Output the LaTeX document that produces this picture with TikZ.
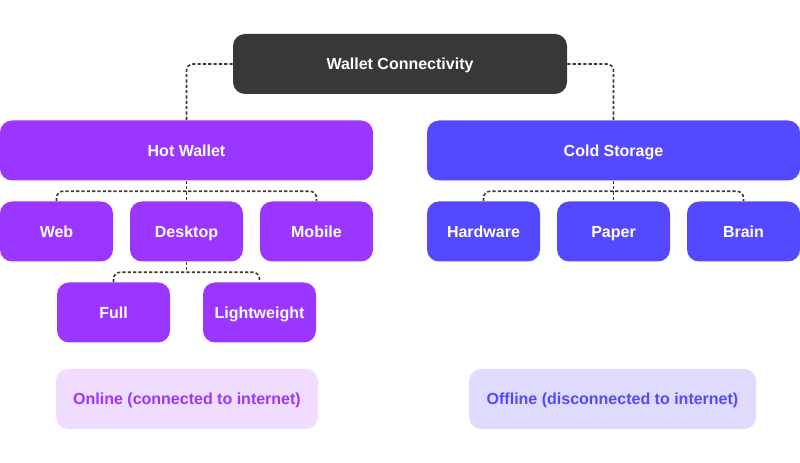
\documentclass[tikz,border=0pt]{standalone}
\usepackage{fontspec}
\setmainfont{Liberation Sans}
\usetikzlibrary{calc}
\definecolor{oscuro}{HTML}{383838}
\definecolor{morado}{HTML}{9A36FF}
\definecolor{azul}{HTML}{5549FF}
\definecolor{moradoclaro}{HTML}{EFDCFF}
\definecolor{azulclaro}{HTML}{DFDBFF}
\begin{document}
\begin{tikzpicture}[x=0.75pt,y=-0.75pt,
	caja/.style={rectangle,rounded corners=9pt,minimum height=45pt,text=white,
		font=\bfseries\fontsize{12}{14}\selectfont,inner sep=0pt,
		text height=8.6pt,text depth=0pt},
	chica/.style={caja,minimum width=84.75pt},
	grande/.style={caja,minimum width=279.75pt},
	nota/.style={caja,minimum height=45pt},
	enlace/.style={draw=oscuro,line width=1.2pt,dash pattern=on 2.4pt off 1.6pt,rounded corners=5pt}]
	\useasboundingbox (0,0) rectangle (800,463);

	% raiz
	\node[caja,fill=oscuro,minimum width=250.5pt] (conn) at (400,64) {Wallet Connectivity};

	% ramas
	\node[grande,fill=morado] (hot) at (186.5,150.5) {Hot Wallet};
	\node[grande,fill=azul] (cold) at (613.5,150.5) {Cold Storage};

	\node[chica,fill=morado] (web) at (56.5,231.5) {Web};
	\node[chica,fill=morado] (desk) at (186.5,231.5) {Desktop};
	\node[chica,fill=morado] (mobile) at (316.5,231.5) {Mobile};
	\node[chica,fill=morado] (full) at (113.5,312.5) {Full};
	\node[chica,fill=morado] (light) at (259.5,312.5) {Lightweight};

	\node[chica,fill=azul] (hardware) at (483.5,231.5) {Hardware};
	\node[chica,fill=azul] (paper) at (613.5,231.5) {Paper};
	\node[chica,fill=azul] (brain) at (743.5,231.5) {Brain};

	% notas
	\node[nota,fill=moradoclaro,text=morado,minimum width=196.5pt] (online) at (187,399) {Online (connected to internet)};
	\node[nota,fill=azulclaro,text=azul,minimum width=215.25pt] (offline) at (612.5,399) {Offline (disconnected to internet)};

	% conexiones
	\draw[enlace] (conn.west) -| (hot.north);
	\draw[enlace] (conn.east) -| (cold.north);

	\draw[enlace] (web.north) -- ++(0,-10) -| (mobile.north);
	\draw[enlace] (hot.south) -- (desk.north);
	\draw[enlace] (full.north) -- ++(0,-10) coordinate (busdesk) -| (light.north);
	\draw[enlace] (desk.south) -- (desk.south |- busdesk);

	\draw[enlace] (hardware.north) -- ++(0,-10) -| (brain.north);
	\draw[enlace] (cold.south) -- (paper.north);
\end{tikzpicture}
\end{document}
